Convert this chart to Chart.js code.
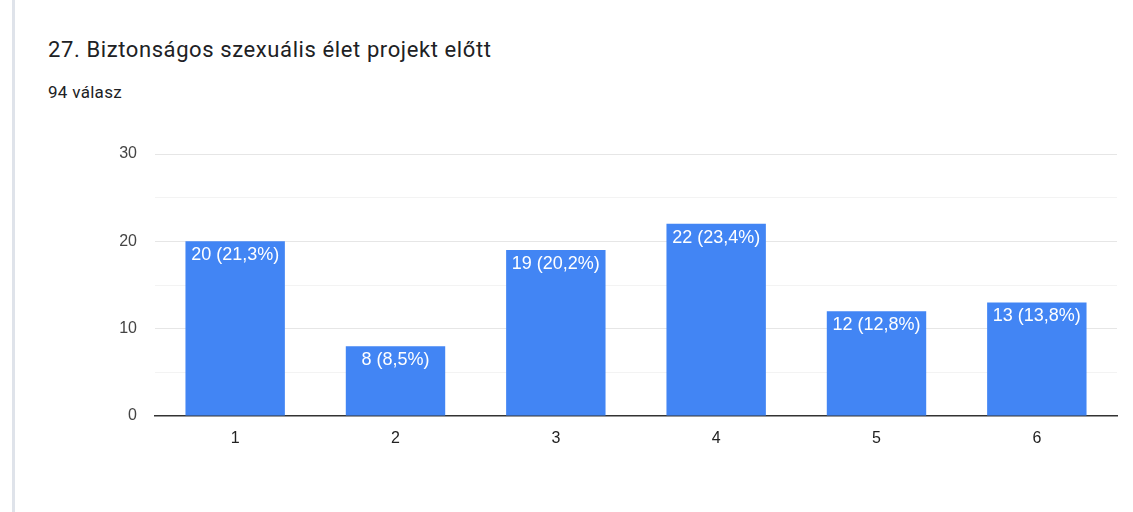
<!DOCTYPE html>
<html>
<head>
<meta charset="utf-8">
<script src="https://cdn.jsdelivr.net/npm/chart.js@4/dist/chart.umd.min.js"></script>
<style>
  html, body { margin: 0; padding: 0; background: #fff; }
  body { width: 1133px; height: 512px; position: relative; overflow: hidden; }
  #leftbar { position: absolute; left: 12px; top: 0; width: 3px; height: 512px; background: #dfe3ea; }
  #title { position: absolute; left: 48px; top: 37px; font-family: Roboto, "Noto Sans", sans-serif; font-size: 22px; letter-spacing: 0.6px; color: #202124; white-space: nowrap; }
  #sub { position: absolute; left: 48px; top: 82px; font-family: Roboto, "Noto Sans", sans-serif; font-size: 17px; letter-spacing: 0.3px; color: #202124; white-space: nowrap; }
  #wrap { position: absolute; left: 0; top: 0; width: 1133px; height: 512px; }
  canvas { display: block; }
</style>
</head>
<body>
<div id="leftbar"></div>
<div id="title">27. Biztonságos szexuális élet projekt előtt</div>
<div id="sub">94 válasz</div>
<div id="wrap"><canvas id="c" width="1133" height="512"></canvas></div>
<script>
const categories = ["1", "2", "3", "4", "5", "6"];
const counts = [20, 8, 19, 22, 12, 13];
const totalResponses = 94;
const yTickLabels = [0, 10, 20, 30];

const labelPlugin = {
  id: 'barLabels',
  afterDatasetsDraw(chart) {
    const ctx = chart.ctx;
    const meta = chart.getDatasetMeta(0);
    ctx.save();
    ctx.font = '18px "Liberation Sans", Arial, sans-serif';
    ctx.fillStyle = '#ffffff';
    ctx.textAlign = 'center';
    ctx.textBaseline = 'top';
    meta.data.forEach((bar, i) => {
      const v = counts[i];
      const pct = (v / totalResponses * 100).toFixed(1).replace('.', ',');
      ctx.fillText(v + ' (' + pct + '%)', bar.x, bar.y + 5);
    });
    ctx.restore();
  }
};

new Chart(document.getElementById('c'), {
  type: 'bar',
  data: {
    labels: categories,
    datasets: [{
      data: counts,
      backgroundColor: '#4285f4',
      borderWidth: 0,
      barPercentage: 0.62,
      categoryPercentage: 1.0
    }]
  },
  options: {
    responsive: false,
    maintainAspectRatio: false,
    animation: false,
    devicePixelRatio: 1,
    layout: { padding: { left: 0, right: 16, top: 154, bottom: 0 } },
    plugins: { legend: { display: false }, tooltip: { enabled: false } },
    scales: {
      x: {
        grid: { display: false },
        border: { display: true, color: '#333333', width: 1.5 },
        ticks: { color: '#222222', font: { family: '"Liberation Sans", Arial, sans-serif', size: 16 }, padding: 5 },
        afterFit(scale) { scale.height = 96; }
      },
      y: {
        min: 0,
        max: 30,
        grid: {
          drawTicks: false,
          color(ctx) {
            const v = ctx.tick.value;
            if (v === 0) return 'rgba(0,0,0,0)';
            return v % 10 === 0 ? '#e6e6e6' : '#f3f3f3';
          },
          lineWidth: 1
        },
        border: { display: false },
        ticks: {
          stepSize: 5,
          color: '#444444',
          font: { family: '"Liberation Sans", Arial, sans-serif', size: 16 },
          padding: 18,
          callback(value) { return yTickLabels.includes(value) ? String(value) : ''; }
        },
        afterFit(scale) { scale.width = 155; }
      }
    }
  },
  plugins: [labelPlugin]
});
</script>
</body>
</html>
